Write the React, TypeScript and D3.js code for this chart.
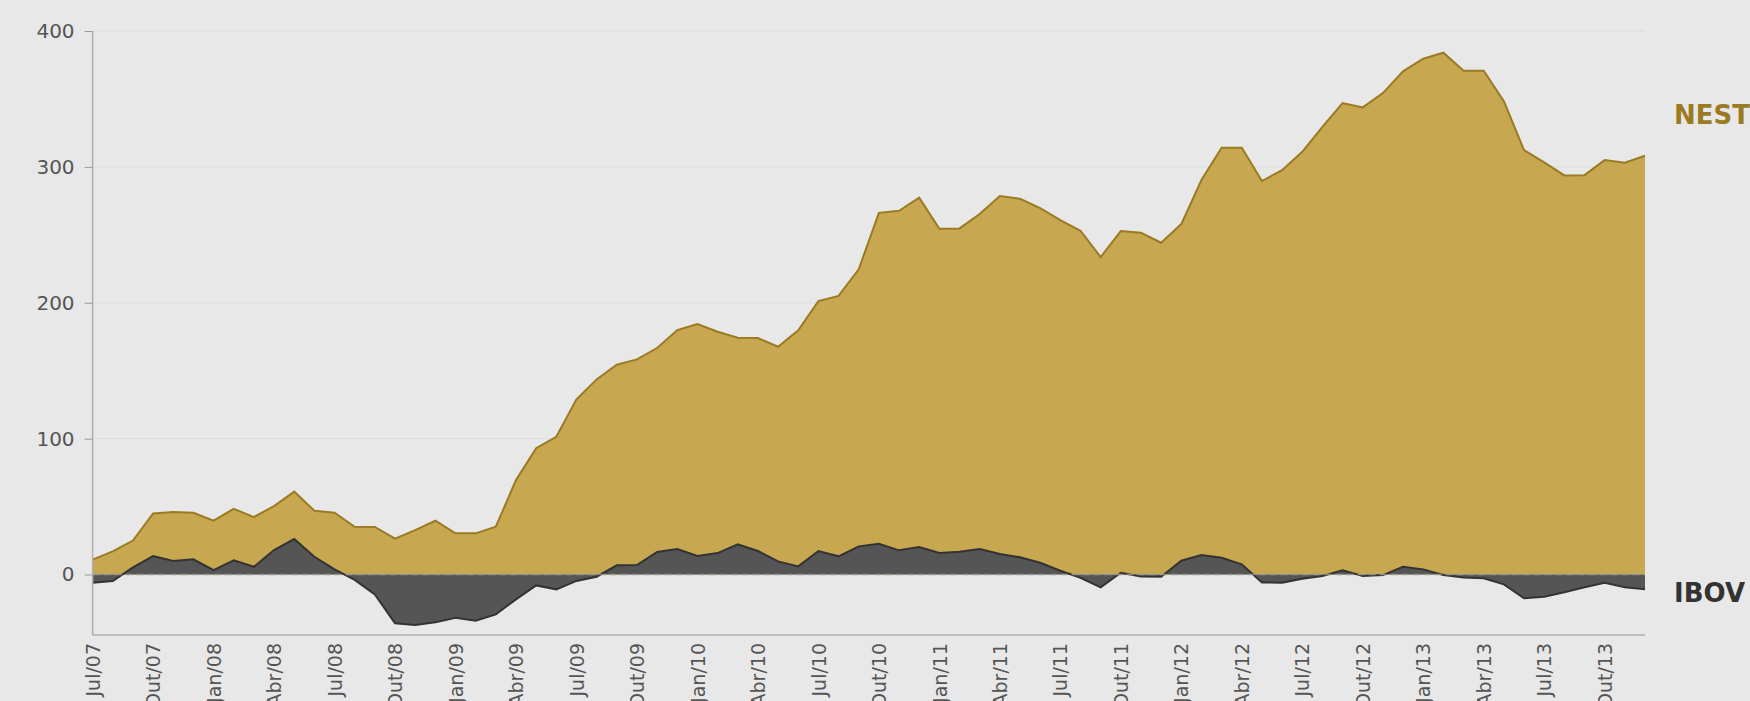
import { useEffect, useRef } from 'react';
import * as d3 from 'd3';

// monthly points, Jul/07 .. Dez/13
const nest = [
  11, 17, 25, 45, 46, 45.5, 39.6, 48.4, 42.3, 50.4, 61, 47, 45.5, 35.2, 35, 26.4, 32.7, 39.6, 30.3, 30.3,
  35.2, 69.5, 93, 101.4, 128.9, 143.6, 154.4, 158.3, 166.7, 179.9, 184.3, 178.7, 174.3, 174, 167.6, 179.7,
  201.2, 205, 224.6, 266.2, 267.7, 277.3, 254.5, 254.7, 265.3, 278.5, 276.5, 269.7, 260.9, 253, 233.6,
  252.8, 251.5, 244.2, 257.9, 290.3, 314.1, 314.1, 289.6, 297.6, 311.1, 329.5, 347, 343.8, 354.3, 370.3,
  379.6, 384, 370.7, 370.7, 348.4, 312.4, 303.3, 293.7, 293.9, 305, 303, 308.2,
];

const ibov = [
  -6, -4.8, 5.3, 13.6, 9.9, 11.2, 3.3, 10.4, 5.7, 18, 26.1, 13.1, 3.8, -4, -14.6, -35.9, -37.2, -35.2,
  -31.8, -34, -29.3, -18.3, -8, -10.9, -4.7, -1.6, 6.8, 7, 16.6, 18.8, 13.6, 15.8, 22.2, 17.3, 9.7, 6,
  17.3, 13.4, 20.7, 22.7, 17.8, 20.2, 15.8, 16.8, 18.8, 15.1, 12.7, 8.7, 2.8, -2.4, -9.4, 1.3, -1.4,
  -1.6, 10.2, 14.3, 12.4, 7.5, -5.8, -6, -3.1, -1.1, 3.1, -1.1, -0.4, 5.7, 3.8, -0.4, -2.1, -2.8, -7.2,
  -17.5, -16.3, -13.1, -9.4, -6, -9.4, -10.9,
];

const tickLabels = [
  'Jul/07', 'Out/07', 'Jan/08', 'Abr/08', 'Jul/08', 'Out/08', 'Jan/09', 'Abr/09', 'Jul/09',
  'Out/09', 'Jan/10', 'Abr/10', 'Jul/10', 'Out/10', 'Jan/11', 'Abr/11', 'Jul/11', 'Out/11',
  'Jan/12', 'Abr/12', 'Jul/12', 'Out/12', 'Jan/13', 'Abr/13', 'Jul/13', 'Out/13',
];

const yTicks = [0, 100, 200, 300, 400];

export default function App() {
  const svgRef = useRef<SVGSVGElement>(null);

  useEffect(() => {
    if (!svgRef.current) return;
    const W = 1750;
    const H = 701;
    const left = 92.6;
    const right = 1645;
    const top = 31;
    const bottom = 635;
    const font = '"DejaVu Sans", sans-serif';

    const svg = d3.select(svgRef.current);
    svg.selectAll('*').remove();
    svg.attr('width', W).attr('height', H);

    svg.append('rect').attr('width', W).attr('height', H).attr('fill', '#e8e8e8');

    const x = d3.scaleLinear().domain([0, nest.length - 1]).range([left, right]);
    const y = d3.scaleLinear().domain([-44.5, 400]).range([bottom, top]);

    // grid
    svg.append('g')
      .selectAll('line')
      .data(yTicks.filter(t => t > 0))
      .enter()
      .append('line')
      .attr('x1', left)
      .attr('x2', right)
      .attr('y1', d => y(d))
      .attr('y2', d => y(d))
      .attr('stroke', '#dcdcdc')
      .attr('stroke-width', 1);

    const area = (vals: number[]) =>
      d3.area<number>()
        .x((_, i) => x(i))
        .y0(y(0))
        .y1(d => y(d))(vals);
    const line = (vals: number[]) =>
      d3.line<number>()
        .x((_, i) => x(i))
        .y(d => y(d))(vals);

    svg.append('path').attr('d', area(nest)).attr('fill', '#c7a750');
    svg.append('path').attr('d', line(nest)).attr('fill', 'none')
      .attr('stroke', '#9a7a22').attr('stroke-width', 2);

    svg.append('path').attr('d', area(ibov)).attr('fill', '#555555');
    svg.append('path').attr('d', line(ibov)).attr('fill', 'none')
      .attr('stroke', '#333333').attr('stroke-width', 2);

    // zero line
    svg.append('line')
      .attr('x1', left).attr('x2', right)
      .attr('y1', y(0)).attr('y2', y(0))
      .attr('stroke', '#999').attr('stroke-width', 1.5)
      .attr('stroke-dasharray', '7,4').attr('opacity', 0.85);

    // y axis
    const yAxis = svg.append('g')
      .attr('transform', `translate(${left},0)`)
      .call(d3.axisLeft(y).tickValues(yTicks).tickSize(8).tickPadding(10).tickFormat(d3.format('d')));
    yAxis.select('.domain').attr('stroke', '#b0b0b0').attr('stroke-width', 1.5)
      .attr('d', `M0,${y(400)}V${bottom}`);
    yAxis.selectAll('.tick line').attr('stroke', '#999');
    yAxis.selectAll('text').attr('fill', '#555').style('font-size', '20px').style('font-family', font);

    // x axis
    const xAxis = svg.append('g')
      .attr('transform', `translate(0,${bottom})`)
      .call(d3.axisBottom(x)
        .tickValues(tickLabels.map((_, i) => i * 3))
        .tickSize(0)
        .tickFormat((_, i) => tickLabels[i]));
    xAxis.select('.domain').attr('stroke', '#b0b0b0').attr('stroke-width', 1.5)
      .attr('d', `M${left},0H${right}`);
    xAxis.selectAll('text')
      .attr('fill', '#555')
      .attr('transform', 'rotate(-90)')
      .attr('x', -8)
      .attr('y', 0)
      .attr('dy', '0.35em')
      .attr('text-anchor', 'end')
      .style('font-size', '19px')
      .style('font-family', font);

    // series labels
    svg.append('text')
      .attr('x', 1674).attr('y', 124)
      .attr('fill', '#9a7a22')
      .style('font-size', '26px').style('font-weight', 'bold').style('font-family', font)
      .text('NEST');
    svg.append('text')
      .attr('x', 1674).attr('y', 602)
      .attr('fill', '#333333')
      .style('font-size', '26px').style('font-weight', 'bold').style('font-family', font)
      .text('IBOV');
  }, []);

  return <svg ref={svgRef} style={{ position: 'absolute', left: 0, top: 0 }}></svg>;
}
